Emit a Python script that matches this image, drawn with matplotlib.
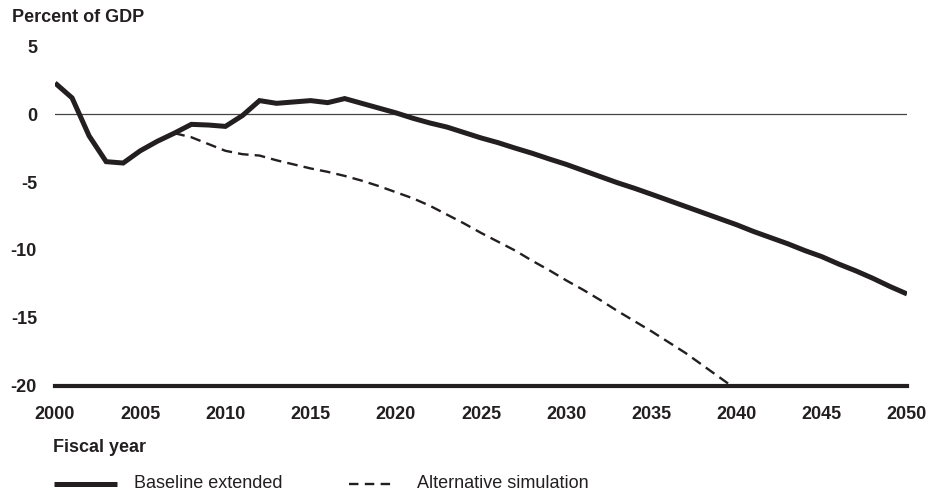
import matplotlib.pyplot as plt
from matplotlib.lines import Line2D
import numpy as np

# === DATA ===
years = list(range(2000, 2051))
baseline = [2.3, 1.2, -1.6, -3.5, -3.6, -2.7, -2.0, -1.4, -0.75, -0.8,
            -0.9, -0.1, 1.0, 0.8, 0.9, 1.0, 0.85, 1.15, 0.8, 0.45,
            0.1, -0.3, -0.65, -0.95, -1.35, -1.75, -2.1, -2.5, -2.88, -3.3,
            -3.7, -4.15, -4.6, -5.05, -5.46, -5.9, -6.35, -6.8, -7.25, -7.7,
            -8.15, -8.65, -9.1, -9.55, -10.05, -10.5, -11.05, -11.55, -12.1, -12.7,
            -13.25]
alt_years = list(range(2007, 2041))
alternative = [-1.4, -1.7, -2.2, -2.7, -2.95, -3.05, -3.4, -3.7, -4.0, -4.25,
               -4.55, -4.9, -5.3, -5.75, -6.2, -6.75, -7.4, -8.05, -8.75, -9.4,
               -10.05, -10.8, -11.5, -12.25, -12.95, -13.7, -14.5, -15.25, -16.0, -16.8,
               -17.6, -18.5, -19.4, -20.3]
xticks = list(range(2000, 2051, 5))
yticks = [-20, -15, -10, -5, 0, 5]

INK = '#231f20'
plt.rcParams['font.family'] = ['Liberation Sans', 'DejaVu Sans']
plt.rcParams['axes.unicode_minus'] = False

fig = plt.figure(figsize=(9.44, 4.93), dpi=100)
ax = fig.add_axes([0.0583, 0.218, 0.9025, 0.688])

ax.axhline(0, color='#444444', lw=0.9, zorder=1)
ax.plot(years, baseline, color=INK, lw=3.6, solid_capstyle='butt',
        solid_joinstyle='miter', zorder=3)
ax.plot(alt_years, alternative, color=INK, lw=1.7, dashes=(4.5, 2.6), zorder=2)

ax.set_xlim(2000, 2050)
ax.set_ylim(-20, 5)
ax.set_xticks(xticks)
ax.set_yticks(yticks)
for s in ['top', 'right', 'left']:
    ax.spines[s].set_visible(False)
ax.spines['bottom'].set_linewidth(3.0)
ax.spines['bottom'].set_color(INK)
ax.spines['bottom'].set_zorder(4)
ax.tick_params(axis='both', length=0, labelsize=13, colors=INK)
ax.tick_params(axis='y', pad=13)
ax.tick_params(axis='x', pad=15)
for lbl in ax.get_xticklabels() + ax.get_yticklabels():
    lbl.set_fontweight('bold')

# === TEXTS ===
fig.text(12 / 944, 1 - 17 / 493, 'Percent of GDP', fontsize=13, fontweight='bold',
         va='center', ha='left', color=INK)
fig.text(53 / 944, 1 - 448 / 493, 'Fiscal year', fontsize=13, fontweight='bold',
         va='center', ha='left', color=INK)

# === LEGEND ===
ly = 1 - 484 / 493
fig.add_artist(Line2D([54 / 944, 117 / 944], [ly, ly], color=INK, lw=3.6,
                      solid_capstyle='butt'))
fig.text(134 / 944, ly, 'Baseline extended', fontsize=13, va='center', ha='left', color=INK)
fig.add_artist(Line2D([349 / 944, 395 / 944], [ly, ly], color=INK, lw=1.7,
                      dashes=(4.0, 2.7)))
fig.text(417 / 944, ly, 'Alternative simulation', fontsize=13, va='center', ha='left', color=INK)

fig.savefig('out.png', dpi=100)
